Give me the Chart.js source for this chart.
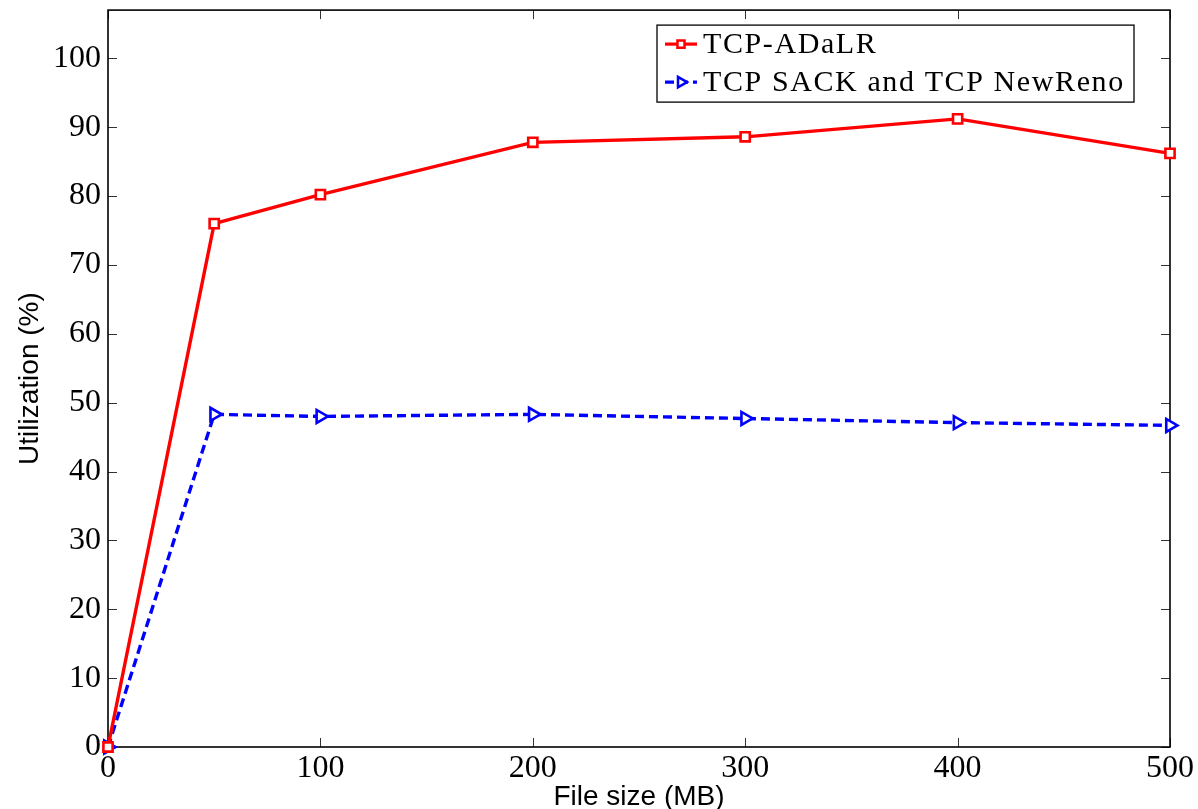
<!DOCTYPE html>
<html>
<head>
<meta charset="utf-8">
<script src="https://cdn.jsdelivr.net/npm/chart.js@4.4.1/dist/chart.umd.min.js"></script>
<style>
  html, body { margin: 0; padding: 0; background: #fff; }
  #wrap { width: 1198px; height: 809px; }
</style>
</head>
<body>
<div id="wrap"><canvas id="chart" width="1198" height="809"></canvas></div>
<script>
// data
const fileSizes = [0, 50, 100, 200, 300, 400, 500];
const adalrUtil = [0, 76.0, 80.2, 87.8, 88.6, 91.2, 86.2];
const sackUtil = [0, 48.3, 48.0, 48.3, 47.7, 47.1, 46.7];
const xTicks = [0, 100, 200, 300, 400, 500];
const yTicks = [0, 10, 20, 30, 40, 50, 60, 70, 80, 90, 100];
const seriesNames = ['TCP-ADaLR', 'TCP SACK and TCP NewReno'];

const serif = "'Liberation Serif', 'Times New Roman', serif";
const sans = "'Liberation Sans', Arial, sans-serif";

function toPoints(ys) {
  return fileSizes.map((x, i) => ({ x: x, y: ys[i] }));
}

// box + inward tick marks like matlab
const frameTicks = {
  id: 'frameTicks',
  beforeDatasetsDraw(chart) {
    const { ctx, chartArea: a, scales } = chart;
    const len = 9;
    ctx.save();
    ctx.strokeStyle = '#333';
    ctx.lineWidth = 1;
    ctx.beginPath();
    xTicks.forEach(v => {
      const px = Math.round(scales.x.getPixelForValue(v)) + 0.5;
      ctx.moveTo(px, a.bottom); ctx.lineTo(px, a.bottom - len);
      ctx.moveTo(px, a.top); ctx.lineTo(px, a.top + len);
    });
    yTicks.forEach(v => {
      const py = Math.round(scales.y.getPixelForValue(v)) + 0.5;
      ctx.moveTo(a.left, py); ctx.lineTo(a.left + len, py);
      ctx.moveTo(a.right, py); ctx.lineTo(a.right - len, py);
    });
    ctx.stroke();
    ctx.strokeStyle = '#000';
    ctx.lineWidth = 1.6;
    ctx.strokeRect(a.left, a.top, a.right - a.left, a.bottom - a.top);
    ctx.restore();
  }
};

// legend box in the top right corner
const boxLegend = {
  id: 'boxLegend',
  afterDatasetsDraw(chart) {
    const { ctx, chartArea: a } = chart;
    const w = 477, h = 77;
    const x0 = a.right - 36 - w;
    const y0 = a.top + 15;
    ctx.save();
    ctx.fillStyle = '#fff';
    ctx.fillRect(x0, y0, w, h);
    ctx.strokeStyle = '#000';
    ctx.lineWidth = 1.3;
    ctx.strokeRect(x0, y0, w, h);
    chart.data.datasets.forEach((ds, i) => {
      const cy = y0 + 19 + i * 38;
      ctx.strokeStyle = ds.borderColor;
      ctx.lineWidth = 3.2;
      ctx.setLineDash(ds.borderDash || []);
      ctx.beginPath();
      ctx.moveTo(x0 + 8, cy);
      ctx.lineTo(x0 + 40, cy);
      ctx.stroke();
      ctx.setLineDash([]);
      ctx.fillStyle = '#fff';
      ctx.lineWidth = 2.5;
      Chart.helpers.drawPoint(ctx, {
        pointStyle: ds.pointStyle,
        radius: ds.pointStyle === 'triangle' ? 6 : 5,
        rotation: ds.pointRotation || 0,
        borderWidth: 2.5
      }, x0 + 24, cy);
      ctx.fillStyle = '#000';
      ctx.font = '30px ' + serif;
      ctx.letterSpacing = '1.6px';
      ctx.textBaseline = 'middle';
      ctx.fillText(ds.label, x0 + 46, cy + 1);
    });
    ctx.restore();
  }
};

new Chart(document.getElementById('chart'), {
  type: 'line',
  data: {
    datasets: [
      {
        label: seriesNames[0],
        data: toPoints(adalrUtil),
        borderColor: '#ff0000',
        borderWidth: 3.4,
        pointStyle: 'rect',
        pointRadius: 6.5,
        pointBorderWidth: 2.6,
        pointBackgroundColor: '#fff',
        pointBorderColor: '#ff0000',
        tension: 0,
        clip: false
      },
      {
        label: seriesNames[1],
        data: toPoints(sackUtil),
        borderColor: '#0000ff',
        borderWidth: 3.4,
        borderDash: [9, 5],
        pointStyle: 'triangle',
        pointRotation: 90,
        pointRadius: 7.5,
        pointBorderWidth: 2.6,
        pointBackgroundColor: '#fff',
        pointBorderColor: '#0000ff',
        tension: 0,
        clip: false
      }
    ]
  },
  options: {
    responsive: false,
    animation: false,
    layout: { padding: { top: 9, right: 28, left: 0, bottom: 0 } },
    plugins: {
      legend: { display: false },
      tooltip: { enabled: false }
    },
    scales: {
      x: {
        type: 'linear',
        min: 0,
        max: 500,
        grid: { display: false, drawTicks: false },
        border: { display: false },
        afterBuildTicks: s => { s.ticks = xTicks.map(v => ({ value: v })); },
        afterFit: s => { s.height = 62; s.paddingLeft = 0; s.paddingRight = 0; },
        ticks: {
          autoSkip: false,
          maxRotation: 0,
          padding: 2,
          color: '#000',
          font: { family: serif, size: 32 }
        },
        title: {
          display: true,
          text: 'File size (MB)',
          color: '#000',
          font: { family: sans, size: 28, lineHeight: 1 },
          padding: { top: 0, bottom: -2 }
        }
      },
      y: {
        type: 'linear',
        min: 0,
        max: 107,
        grid: { display: false, drawTicks: false },
        border: { display: false },
        afterBuildTicks: s => { s.ticks = yTicks.map(v => ({ value: v })); },
        afterFit: s => { s.width = 108; s.paddingTop = 0; s.paddingBottom = 0; },
        ticks: {
          padding: 7,
          color: '#000',
          font: { family: serif, size: 32 }
        },
        title: {
          display: true,
          text: 'Utilization (%)',
          color: '#000',
          font: { family: sans, size: 28, lineHeight: 1 },
          padding: { top: 16, bottom: 0 }
        }
      }
    }
  },
  plugins: [frameTicks, boxLegend]
});
</script>
</body>
</html>
